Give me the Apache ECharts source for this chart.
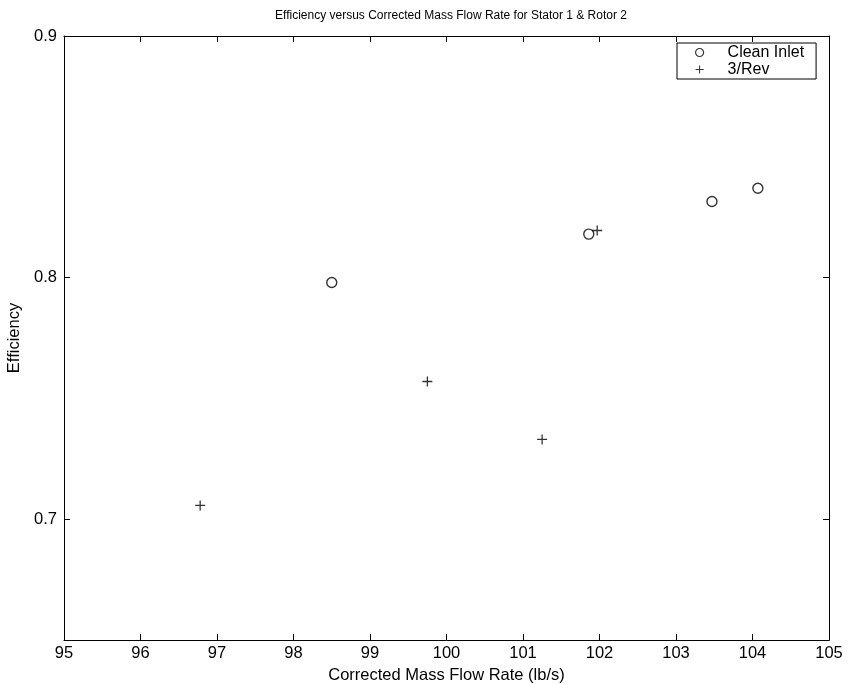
<!DOCTYPE html>
<html>
<head>
<meta charset="utf-8">
<script src="https://cdn.jsdelivr.net/npm/echarts@6/dist/echarts.min.js"></script>
<style>
  html, body { margin: 0; padding: 0; background: #fff; }
  #chart { width: 848px; height: 684px; }
</style>
</head>
<body>
<div id="chart"></div>
<script>
// Measured operating points: corrected mass flow (lb/s) vs. efficiency
const cleanFlow = [98.5, 101.86, 103.47, 104.07];
const cleanEff  = [0.798, 0.818, 0.8315, 0.837];

const revFlow = [96.78, 99.75, 101.25, 101.97];
const revEff  = [0.7057, 0.757, 0.733, 0.8195];

const xTicks = [95, 96, 97, 98, 99, 100, 101, 102, 103, 104, 105];
const yTicks = [0.7, 0.8, 0.9];

const FONT = '"Liberation Sans", Arial, sans-serif';
const PLUS = 'path://M4.35,0h1.3v10h-1.3z M0,4.35h10v1.3h-10z';

function pairs(xs, ys) { return xs.map((x, i) => [x, ys[i]]); }

const chart = echarts.init(document.getElementById('chart'), null, { renderer: 'canvas' });

const tick = vals => ({
  show: true, inside: true, length: 6,
  lineStyle: { color: '#000', width: 1 },
  customValues: vals
});
const line = { show: true, onZero: false, lineStyle: { color: '#000', width: 1 } };

chart.setOption({
  animation: false,
  backgroundColor: '#fff',
  title: {
    text: 'Efficiency versus Corrected Mass Flow Rate for Stator 1 & Rotor 2',
    left: 446, top: 5, textAlign: 'center',
    textStyle: { fontFamily: FONT, fontSize: 12, fontWeight: 'normal', color: '#000' }
  },
  legend: {
    orient: 'vertical',
    left: 677, top: 43,
    padding: [1, 12, 1, 18],
    itemGap: 0,
    itemWidth: 8, itemHeight: 8,
    borderColor: '#000', borderWidth: 1,
    backgroundColor: '#fff',
    textStyle: { fontFamily: FONT, fontSize: 16, lineHeight: 17, color: '#000', padding: [0, 0, 0, 19] },
    data: [
      { name: 'Clean Inlet', icon: 'circle', itemStyle: { color: '#fff', borderColor: '#000', borderWidth: 1.2 } },
      { name: '3/Rev', icon: PLUS, itemStyle: { color: '#000', borderWidth: 0 } }
    ]
  },
  grid: { left: 64, right: 19, top: 36, bottom: 44, outerBoundsMode: 'none' },
  xAxis: [
    {
      type: 'value', position: 'bottom', min: 95, max: 105, interval: 1,
      name: 'Corrected Mass Flow Rate (lb/s)', nameLocation: 'middle', nameGap: 24,
      nameTextStyle: { fontFamily: FONT, fontSize: 16.5, color: '#000' },
      axisLine: line, splitLine: { show: false },
      axisLabel: { fontFamily: FONT, fontSize: 16.5, color: '#000', margin: 5, customValues: xTicks },
      axisTick: tick(xTicks)
    },
    {
      type: 'value', position: 'top', min: 95, max: 105, interval: 1,
      axisLine: line, splitLine: { show: false },
      axisLabel: { show: false },
      axisTick: tick(xTicks)
    }
  ],
  yAxis: [
    {
      type: 'value', position: 'left', min: 0.65, max: 0.9,
      name: 'Efficiency', nameLocation: 'middle', nameGap: 37, nameRotate: 90,
      nameTextStyle: { fontFamily: FONT, fontSize: 16.5, color: '#000' },
      axisLine: line, splitLine: { show: false },
      axisLabel: {
        fontFamily: FONT, fontSize: 16.5, color: '#000', margin: 7,
        customValues: yTicks,
        formatter: v => v.toFixed(1)
      },
      axisTick: tick(yTicks)
    },
    {
      type: 'value', position: 'right', min: 0.65, max: 0.9,
      axisLine: line, splitLine: { show: false },
      axisLabel: { show: false },
      axisTick: tick(yTicks)
    }
  ],
  series: [
    {
      name: 'Clean Inlet', type: 'scatter',
      xAxisIndex: 0, yAxisIndex: 0,
      symbol: 'circle', symbolSize: 10,
      itemStyle: { color: '#fff', borderColor: '#000', borderWidth: 1.4 },
      data: pairs(cleanFlow, cleanEff)
    },
    {
      name: '3/Rev', type: 'scatter',
      xAxisIndex: 0, yAxisIndex: 0,
      symbol: PLUS, symbolSize: 10,
      itemStyle: { color: '#000' },
      data: pairs(revFlow, revEff)
    }
  ]
});
</script>
</body>
</html>
